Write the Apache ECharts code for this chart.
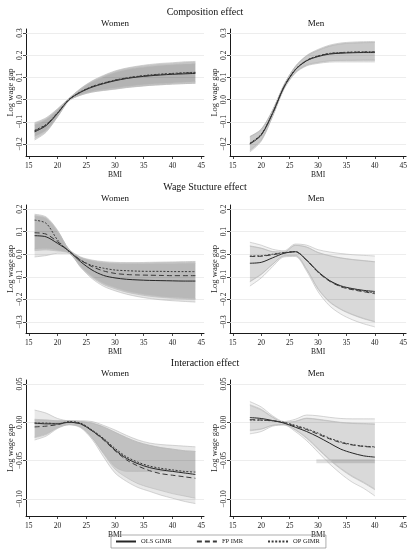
<!DOCTYPE html>
<html><head><meta charset="utf-8">
<script src="https://cdn.jsdelivr.net/npm/echarts@6/dist/echarts.min.js"></script>
<style>html,body{margin:0;padding:0;background:#fff}#c{width:410px;height:550px}</style>
</head><body><div id="c"></div>
<script>
const FONT = '"Liberation Serif", "DejaVu Serif", serif';

// ---------- axes / labels ----------
const bmiW = [16,18,20,22,24,26,28,30,32,34,36,38,40,42,44];
const bmiM = [18,20,22,24,26,28,30,32,34,36,38,40];
const xTicks = [15,20,25,30,35,40,45];
const yTicksComp = [-0.2,-0.1,0,0.1,0.2,0.3];
const yTicksWage = [-0.3,-0.2,-0.1,0,0.1,0.2];
const yTicksInter = [-0.10,-0.05,0,0.05];
const rowTitles = ['Composition effect','Wage Stucture effect','Interaction effect'];
const colTitles = ['Women','Men'];
const legendNames = ['OLS GIMR','FP IMR','OP GIMR'];

// ---------- Composition effect, Women ----------
const compW_ols = [-0.145,-0.117,-0.062,0.000,0.033,0.056,0.072,0.085,0.095,0.102,0.107,0.111,0.114,0.116,0.118];
const compW_fp  = [-0.141,-0.114,-0.060,0.000,0.034,0.058,0.074,0.087,0.097,0.104,0.109,0.113,0.116,0.119,0.121];
const compW_op  = [-0.138,-0.112,-0.059,0.001,0.035,0.059,0.075,0.088,0.098,0.105,0.111,0.115,0.118,0.121,0.123];
const compW_olsLo = [-0.165,-0.138,-0.076,-0.004,0.022,0.037,0.045,0.052,0.059,0.065,0.069,0.072,0.075,0.078,0.080];
const compW_olsHi = [-0.114,-0.090,-0.046,0.005,0.047,0.079,0.103,0.122,0.135,0.143,0.149,0.154,0.157,0.160,0.162];
const compW_fpLo  = [-0.176,-0.143,-0.077,-0.005,0.020,0.034,0.042,0.048,0.055,0.060,0.064,0.067,0.070,0.072,0.074];
const compW_fpHi  = [-0.108,-0.086,-0.043,0.005,0.048,0.082,0.106,0.126,0.139,0.148,0.154,0.159,0.162,0.166,0.168];
const compW_opLo  = [-0.182,-0.147,-0.077,-0.004,0.020,0.034,0.041,0.047,0.054,0.059,0.064,0.067,0.070,0.072,0.074];
const compW_opHi  = [-0.104,-0.082,-0.041,0.006,0.050,0.084,0.109,0.129,0.142,0.151,0.158,0.163,0.166,0.170,0.172];

// ---------- Composition effect, Men ----------
const compM_ols = [-0.200,-0.160,-0.062,0.056,0.134,0.175,0.194,0.205,0.209,0.211,0.212,0.212];
const compM_fp  = [-0.198,-0.158,-0.061,0.057,0.135,0.176,0.196,0.207,0.211,0.213,0.214,0.214];
const compM_op  = [-0.196,-0.156,-0.060,0.058,0.136,0.177,0.197,0.208,0.212,0.214,0.215,0.216];
const compM_olsLo = [-0.236,-0.187,-0.076,0.047,0.119,0.152,0.163,0.169,0.170,0.170,0.170,0.170];
const compM_olsHi = [-0.166,-0.133,-0.048,0.066,0.149,0.199,0.226,0.245,0.255,0.259,0.261,0.262];
const compM_fpLo  = [-0.230,-0.183,-0.074,0.049,0.122,0.155,0.167,0.174,0.176,0.176,0.177,0.177];
const compM_fpHi  = [-0.168,-0.135,-0.049,0.065,0.148,0.196,0.221,0.240,0.250,0.254,0.256,0.257];
const compM_opLo  = [-0.228,-0.181,-0.073,0.050,0.123,0.156,0.168,0.175,0.177,0.178,0.178,0.178];
const compM_opHi  = [-0.167,-0.134,-0.048,0.066,0.149,0.197,0.222,0.241,0.251,0.255,0.257,0.258];

// ---------- Wage structure effect, Women ----------
const wageW_ols = [0.082,0.077,0.048,0.014,-0.033,-0.070,-0.094,-0.105,-0.111,-0.114,-0.116,-0.117,-0.118,-0.119,-0.119];
const wageW_fp  = [0.095,0.089,0.055,0.014,-0.026,-0.055,-0.074,-0.085,-0.090,-0.092,-0.093,-0.094,-0.095,-0.095,-0.095];
const wageW_op  = [0.151,0.137,0.063,0.011,-0.026,-0.050,-0.062,-0.070,-0.073,-0.075,-0.076,-0.076,-0.077,-0.077,-0.077];
const wageW_olsLo = [-0.012,-0.006,0.004,0.004,-0.058,-0.108,-0.142,-0.162,-0.177,-0.188,-0.196,-0.202,-0.206,-0.209,-0.212];
const wageW_olsHi = [0.168,0.158,0.100,0.022,-0.012,-0.026,-0.033,-0.036,-0.037,-0.037,-0.036,-0.035,-0.034,-0.033,-0.032];
const wageW_fpLo  = [0.016,0.019,0.014,0.005,-0.055,-0.102,-0.134,-0.153,-0.168,-0.178,-0.186,-0.191,-0.195,-0.198,-0.200];
const wageW_fpHi  = [0.172,0.161,0.103,0.020,-0.014,-0.029,-0.036,-0.039,-0.040,-0.040,-0.039,-0.038,-0.037,-0.036,-0.035];
const wageW_opLo  = [0.022,0.025,0.018,0.006,-0.052,-0.098,-0.129,-0.148,-0.163,-0.173,-0.181,-0.187,-0.191,-0.194,-0.197];
const wageW_opHi  = [0.177,0.165,0.106,0.019,-0.016,-0.031,-0.039,-0.042,-0.043,-0.043,-0.043,-0.042,-0.042,-0.041,-0.041];

// ---------- Wage structure effect, Men ----------
const wageM_ols = [-0.040,-0.036,-0.016,0.004,0.011,-0.026,-0.077,-0.116,-0.140,-0.152,-0.160,-0.165];
const wageM_fp  = [-0.010,-0.009,-0.002,0.006,0.011,-0.028,-0.080,-0.119,-0.144,-0.157,-0.166,-0.175];
const wageM_op  = [-0.008,-0.007,0.000,0.007,0.012,-0.027,-0.079,-0.118,-0.142,-0.155,-0.163,-0.171];
const wageM_olsLo = [-0.141,-0.105,-0.055,-0.012,-0.010,-0.075,-0.166,-0.228,-0.265,-0.290,-0.308,-0.322];
const wageM_olsHi = [0.053,0.040,0.022,0.015,0.045,0.040,0.020,0.010,0.003,-0.002,-0.005,-0.008];
const wageM_fpLo  = [-0.122,-0.090,-0.045,-0.008,-0.006,-0.068,-0.155,-0.212,-0.245,-0.268,-0.286,-0.300];
const wageM_fpHi  = [0.037,0.027,0.012,0.010,0.040,0.032,0.008,-0.006,-0.016,-0.023,-0.028,-0.033];
const wageM_opLo  = [-0.120,-0.088,-0.044,-0.007,-0.005,-0.066,-0.152,-0.209,-0.243,-0.266,-0.284,-0.298];
const wageM_opHi  = [0.035,0.026,0.011,0.009,0.039,0.031,0.007,-0.007,-0.017,-0.024,-0.029,-0.034];

// ---------- Interaction effect, Women ----------
const interW_ols = [-0.001,-0.002,-0.002,0.000,-0.002,-0.011,-0.022,-0.036,-0.047,-0.054,-0.059,-0.062,-0.064,-0.066,-0.068];
const interW_fp  = [-0.006,-0.005,-0.003,0.000,-0.002,-0.011,-0.023,-0.037,-0.049,-0.057,-0.063,-0.067,-0.069,-0.071,-0.073];
const interW_op  = [-0.001,-0.001,-0.002,0.001,-0.001,-0.010,-0.021,-0.034,-0.045,-0.052,-0.057,-0.060,-0.062,-0.064,-0.065];
const interW_olsLo = [-0.023,-0.018,-0.008,-0.003,-0.007,-0.022,-0.045,-0.066,-0.077,-0.085,-0.090,-0.095,-0.099,-0.103,-0.106];
const interW_olsHi = [0.016,0.012,0.005,0.002,0.002,0.001,-0.004,-0.010,-0.017,-0.023,-0.027,-0.029,-0.030,-0.031,-0.032];
const interW_fpLo  = [-0.020,-0.016,-0.007,-0.003,-0.006,-0.020,-0.041,-0.061,-0.072,-0.080,-0.085,-0.089,-0.093,-0.096,-0.099];
const interW_fpHi  = [0.004,0.003,0.002,0.002,0.001,-0.001,-0.006,-0.013,-0.020,-0.026,-0.030,-0.033,-0.035,-0.037,-0.038];
const interW_opLo  = [-0.019,-0.015,-0.007,-0.003,-0.006,-0.020,-0.040,-0.058,-0.064,-0.064,-0.064,-0.064,-0.064,-0.064,-0.064];
const interW_opHi  = [0.003,0.003,0.002,0.002,0.001,-0.001,-0.006,-0.013,-0.020,-0.026,-0.030,-0.033,-0.035,-0.037,-0.038];

// ---------- Interaction effect, Men ----------
const interM_ols = [0.0062,0.0050,0.0023,-0.0010,-0.0064,-0.0120,-0.0190,-0.0270,-0.0350,-0.0400,-0.0437,-0.0454];
const interM_fp  = [0.0035,0.0030,0.0020,-0.0005,-0.0050,-0.0095,-0.0155,-0.0215,-0.0265,-0.0295,-0.0315,-0.0325];
const interM_op  = [0.0030,0.0028,0.0018,0.0000,-0.0040,-0.0085,-0.0140,-0.0205,-0.0255,-0.0290,-0.0310,-0.0320];
const interM_olsLo = [-0.015,-0.012,-0.005,-0.0035,-0.012,-0.024,-0.039,-0.054,-0.067,-0.078,-0.086,-0.096];
const interM_olsHi = [0.027,0.020,0.0085,0.001,0.004,0.0095,0.0085,0.0065,0.005,0.0045,0.0045,0.0045];
const interM_fpLo  = [-0.011,-0.009,-0.004,-0.003,-0.010,-0.021,-0.035,-0.049,-0.061,-0.071,-0.079,-0.088];
const interM_fpHi  = [0.023,0.017,0.007,0.000,0.0015,0.0055,0.004,0.002,0.000,-0.001,-0.0015,-0.002];
const interM_opLo  = [-0.010,-0.0085,-0.0038,-0.0028,-0.0095,-0.020,-0.034,-0.048,-0.060,-0.070,-0.078,-0.087];
const interM_opHi  = [0.022,0.016,0.0065,-0.0002,0.001,0.005,0.0035,0.0015,-0.0005,-0.0015,-0.002,-0.0025];
const interM_stripX  = [29.7,40];
const interM_stripLo = [-0.0535,-0.0535];
const interM_stripHi = [-0.0483,-0.0483];

// ---------- layout / styles ----------
const rows = [
  {top:29, height:127, min:-0.254, max:0.318, ticks:yTicksComp, dec:1, titleY:12, subY:23.5},
  {top:205, height:128, min:-0.349, max:0.218, ticks:yTicksWage, dec:1, titleY:187, subY:198.5},
  {top:380, height:136, min:-0.1222, max:0.0552, ticks:yTicksInter, dec:2, titleY:363.5, subY:374}
];
const cols = [{left:26, width:178, cx:115}, {left:230, width:177, cx:316}];

const panels = [
  {row:0,col:0,alpha:0.11,x:bmiW,lines:[compW_ols,compW_fp,compW_op],bands:[[compW_olsLo,compW_olsHi],[compW_fpLo,compW_fpHi],[compW_opLo,compW_opHi]]},
  {row:0,col:1,alpha:0.075,x:bmiM,lines:[compM_ols,compM_fp,compM_op],bands:[[compM_olsLo,compM_olsHi],[compM_fpLo,compM_fpHi],[compM_opLo,compM_opHi]]},
  {row:1,col:0,alpha:0.1,x:bmiW,lines:[wageW_ols,wageW_fp,wageW_op],bands:[[wageW_olsLo,wageW_olsHi],[wageW_fpLo,wageW_fpHi],[wageW_opLo,wageW_opHi]]},
  {row:1,col:1,alpha:0.05,x:bmiM,lines:[wageM_ols,wageM_fp,wageM_op],bands:[[wageM_olsLo,wageM_olsHi],[wageM_fpLo,wageM_fpHi],[wageM_opLo,wageM_opHi]]},
  {row:2,col:0,alpha:0.085,x:bmiW,lines:[interW_ols,interW_fp,interW_op],bands:[[interW_olsLo,interW_olsHi],[interW_fpLo,interW_fpHi],[interW_opLo,interW_opHi]]},
  {row:2,col:1,alpha:0.05,x:bmiM,lines:[interM_ols,interM_fp,interM_op],bands:[[interM_olsLo,interM_olsHi],[interM_fpLo,interM_fpHi],[interM_opLo,interM_opHi]],
    strip:{x:interM_stripX, lo:interM_stripLo, hi:interM_stripHi}}
];

const lineStyles = [
  {color:'#262626', width:1, type:'solid'},
  {color:'#3a3a3a', width:1, type:[5,3]},
  {color:'#3a3a3a', width:1, type:[2,1.6]}
];
const axisColor = '#1a1a1a';
const fmtY = (v, dec) => (v < -1e-9 ? '\u2212' : '') + Math.abs(v).toFixed(dec);

const grid = [], xAxis = [], yAxis = [], series = [], graphic = [];

rows.forEach((r, ri) => {
  graphic.push({type:'text', x:205, y:r.titleY, style:{text:rowTitles[ri], font:'10px ' + FONT, fill:'#111', textAlign:'center', textVerticalAlign:'middle'}});
  cols.forEach((c, ci) => {
    graphic.push({type:'text', x:c.cx, y:r.subY, style:{text:colTitles[ci], font:'9px ' + FONT, fill:'#111', textAlign:'center', textVerticalAlign:'middle'}});
  });
});

panels.forEach((p, i) => {
  const r = rows[p.row], c = cols[p.col];
  grid.push({left:c.left, top:r.top, width:c.width, height:r.height, containLabel:false});
  xAxis.push({
    type:'value', gridIndex:i, min:14.5, max:45.5,
    axisLine:{show:true, onZero:false, lineStyle:{color:axisColor, width:1}},
    axisTick:{show:true, customValues:xTicks, length:3, lineStyle:{color:axisColor, width:0.8}},
    axisLabel:{customValues:xTicks, fontSize:7.5, fontFamily:FONT, color:'#222', margin:6, formatter:v=>String(Math.round(v))},
    splitLine:{show:false},
    name:'BMI', nameLocation:'middle', nameGap:12, nameTextStyle:{fontSize:7.5, fontFamily:FONT, color:'#222'}
  });
  yAxis.push({
    type:'value', gridIndex:i, min:r.min, max:r.max,
    axisLine:{show:true, onZero:false, lineStyle:{color:axisColor, width:1}},
    axisTick:{show:true, customValues:r.ticks, length:3, lineStyle:{color:axisColor, width:0.8}},
    axisLabel:{customValues:r.ticks, rotate:90, fontSize:7.5, fontFamily:FONT, color:'#222', margin:2, formatter:v=>fmtY(v, r.dec)},
    splitLine:{show:false},
    name:'Log wage gap', nameLocation:'middle', nameGap:11, nameTextStyle:{fontSize:8.5, fontFamily:FONT, color:'#222'}
  });

  // band = lower bound line + stacked (upper - lower) area; value dimension first so the stack runs on y
  const addBand = (xs, lo, hi, key, outline, alpha) => {
    const st = 'band_' + i + '_' + key;
    const ls = outline ? {color:'#b8b8b8', width:0.6} : {width:0, opacity:0};
    series.push({type:'line', name:'_lo', xAxisIndex:i, yAxisIndex:i, stack:st, stackStrategy:'all',
      encode:{x:1, y:0},
      data:xs.map((v,j)=>[lo[j], v]), symbol:'none', smooth:0.3, silent:true, z:2, lineStyle:ls});
    series.push({type:'line', name:'_hi', xAxisIndex:i, yAxisIndex:i, stack:st, stackStrategy:'all',
      encode:{x:1, y:0},
      data:xs.map((v,j)=>[+(hi[j]-lo[j]).toFixed(5), v]), symbol:'none', smooth:0.3, silent:true, z:2, lineStyle:ls,
      areaStyle:{color:'rgba(0,0,0,' + alpha + ')', opacity:1}});
  };
  p.bands.forEach((b, k) => addBand(p.x, b[0], b[1], k, true, p.alpha));
  if (p.strip) addBand(p.strip.x, p.strip.lo, p.strip.hi, 's', false, 0.12);

  p.lines.forEach((l, k) => {
    const s = {type:'line', name:legendNames[k], xAxisIndex:i, yAxisIndex:i,
      data:p.x.map((v,j)=>[v, l[j]]), symbol:'none', smooth:0.3, z:4,
      lineStyle:lineStyles[k], itemStyle:{color:lineStyles[k].color}};
    if (k === 0) {
      s.markLine = {silent:true, symbol:['none','none'], z:1, animation:false,
        label:{show:false}, emphasis:{disabled:true},
        lineStyle:{color:'#e8e8e8', width:0.8, type:'solid'},
        data:r.ticks.map(v=>({yAxis:v}))};
    }
    series.push(s);
  });
});

const chart = echarts.init(document.getElementById('c'), null, {renderer:'canvas'});
chart.setOption({
  animation:false,
  backgroundColor:'#fff',
  textStyle:{fontFamily:FONT},
  grid, xAxis, yAxis, series, graphic,
  legend:{
    data:legendNames, left:111, top:535, orient:'horizontal',
    itemWidth:20, itemHeight:6, itemGap:24, padding:[3,6,3,4],
    borderColor:'#8a8a8a', borderWidth:0.7,
    itemStyle:{opacity:0},
    textStyle:{fontSize:6.5, fontFamily:FONT, color:'#222'},
    selectedMode:false
  }
});
</script>
</body></html>
